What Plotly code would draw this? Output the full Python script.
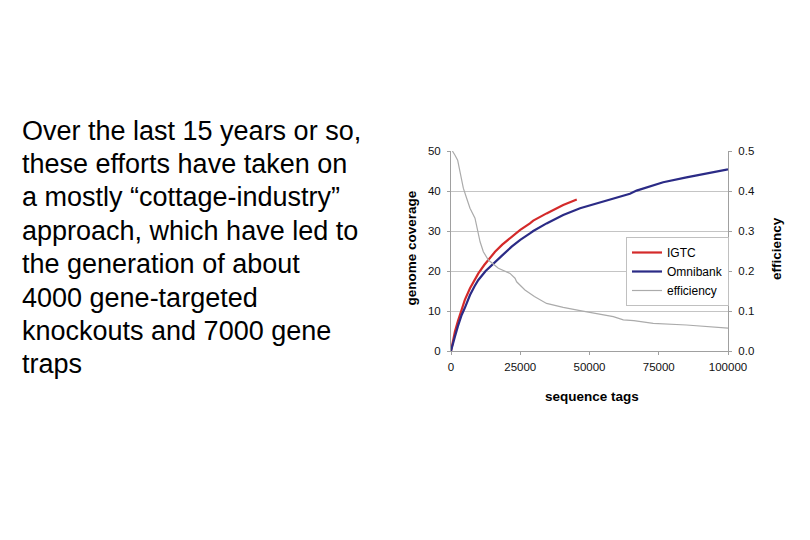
import plotly.graph_objects as go

# ---- data ----
igtc_x = [0, 500, 1400, 2500, 3850, 5000, 6860, 8500, 9870, 12000, 15900, 18500,
          21900, 25000, 28500, 29700, 34500, 40500, 45400]
igtc_y = [0, 2.0, 4.8, 7.5, 10.7, 12.8, 15.7, 17.8, 19.4, 21.5, 24.8, 26.6,
          28.6, 30.3, 31.9, 32.6, 34.4, 36.5, 37.9]

omni_x = [0, 500, 1400, 2500, 3850, 5000, 6860, 8500, 9870, 12500, 15900, 18500,
          21900, 25000, 28500, 29700, 34500, 40500, 46600, 52600, 58600, 61000,
          64600, 67000, 73000, 76600, 85000, 93500, 100000]
omni_y = [0, 1.5, 3.6, 6.2, 9.0, 10.8, 14.0, 16.2, 17.75, 20.0, 22.3, 23.9,
          26.1, 27.8, 29.4, 30.0, 31.9, 34.0, 35.7, 36.9, 38.0, 38.4,
          39.3, 40.1, 41.5, 42.2, 43.4, 44.6, 45.4]

eff_x = [500, 840, 1400, 2400, 3250, 4450, 5650, 6860, 8660, 9870, 10500, 11670,
         13500, 17100, 21300, 23100, 23700, 26700, 28500, 30100, 34500, 40500,
         46600, 52600, 58600, 62200, 66000, 73000, 85000, 100000]
eff_y = [0.5, 0.497, 0.49, 0.477, 0.448, 0.407, 0.382, 0.357, 0.332, 0.298, 0.273, 0.248,
         0.2275, 0.207, 0.194, 0.182, 0.173, 0.1525, 0.143, 0.136, 0.119, 0.109,
         0.101, 0.094, 0.086, 0.078, 0.076, 0.069, 0.065, 0.057]

x_ticks = [0, 25000, 50000, 75000, 100000]
y_ticks = [0, 10, 20, 30, 40, 50]
y2_ticks = [0.0, 0.1, 0.2, 0.3, 0.4, 0.5]

text_lines = [
    "Over the last 15 years or so,",
    "these efforts have taken on",
    "a mostly \u201ccottage-industry\u201d",
    "approach, which have led to",
    "the generation of about",
    "4000 gene-targeted",
    "knockouts and 7000 gene",
    "traps",
]

# ---- layout geometry (pixels, as seen in the page) ----
W, H = 810, 540
OFF = 8  # default page body margin
L, R, T, B = 451, 728, 151, 351
pw, ph = R - L, B - T

def px(x):
    return (x - L) / pw

def py(y):
    return (B - y) / ph

FONT = "Liberation Sans, Arial, sans-serif"
GRID = "#c4c4c4"
AXIS = "#a0a0a0"

fig = go.Figure()
fig.add_trace(go.Scatter(x=igtc_x, y=igtc_y, mode="lines", name="IGTC",
                         line=dict(color="#d42a2a", width=2.2)))
fig.add_trace(go.Scatter(x=omni_x, y=omni_y, mode="lines", name="Omnibank",
                         line=dict(color="#2b2b86", width=2.2)))
fig.add_trace(go.Scatter(x=eff_x, y=eff_y, mode="lines", name="efficiency",
                         yaxis="y2", line=dict(color="#ababab", width=1.2)))

annotations = []
for i, t in enumerate(text_lines):
    annotations.append(dict(
        xref="paper", yref="paper", x=px(20), y=py(130.5 + i * 33.4),
        xanchor="left", yanchor="middle", showarrow=False, text=t,
        font=dict(family=FONT, size=27, color="#000000")))

annotations += [
    dict(xref="paper", yref="paper", x=px(411), y=py(248.5), text="<b>genome coverage</b>",
         textangle=-90, showarrow=False, xanchor="center", yanchor="middle",
         font=dict(family=FONT, size=13.5, color="#000")),
    dict(xref="paper", yref="paper", x=px(776), y=py(249), text="<b>efficiency</b>",
         textangle=-90, showarrow=False, xanchor="center", yanchor="middle",
         font=dict(family=FONT, size=13.5, color="#000")),
    dict(xref="paper", yref="paper", x=px(592), y=py(396), text="<b>sequence tags</b>",
         showarrow=False, xanchor="center", yanchor="middle",
         font=dict(family=FONT, size=13.5, color="#000")),
]

fig.update_layout(
    width=W, height=H,
    margin=dict(l=L - OFF, r=W - R + OFF, t=T - OFF, b=H - B + OFF, pad=0),
    paper_bgcolor="white", plot_bgcolor="white",
    font=dict(family=FONT, size=11.5, color="#111"),
    showlegend=True,
    legend=dict(x=px(626), y=py(237), xanchor="left", yanchor="top",
                bgcolor="white", bordercolor="#c0c0c0", borderwidth=1,
                font=dict(family=FONT, size=12, color="#000"),
                itemwidth=30, tracegroupgap=0),
    xaxis=dict(range=[0, 100000], tickvals=x_ticks, ticktext=[str(v) for v in x_ticks],
               showgrid=False, zeroline=False, showline=True, linecolor=AXIS, linewidth=1,
               ticks="outside", ticklen=3, tickcolor=AXIS, ticklabelstandoff=2,
               tickfont=dict(family=FONT, size=11.5, color="#111")),
    yaxis=dict(range=[0, 50], tickvals=y_ticks, ticktext=[str(v) for v in y_ticks],
               showgrid=True, gridcolor=GRID, gridwidth=1, zeroline=False,
               showline=True, linecolor=AXIS, linewidth=1,
               ticks="outside", ticklen=3, tickcolor=AXIS, ticklabelstandoff=4,
               tickfont=dict(family=FONT, size=11.5, color="#111")),
    yaxis2=dict(range=[0, 0.5], tickvals=y2_ticks, ticktext=[f"{v:.1f}" for v in y2_ticks],
                overlaying="y", side="right", showgrid=False, zeroline=False,
                showline=True, linecolor=AXIS, linewidth=1,
                ticks="outside", ticklen=3, tickcolor=AXIS, ticklabelstandoff=4,
                tickfont=dict(family=FONT, size=11.5, color="#111")),
    annotations=annotations,
)

fig.write_html("out.html")
